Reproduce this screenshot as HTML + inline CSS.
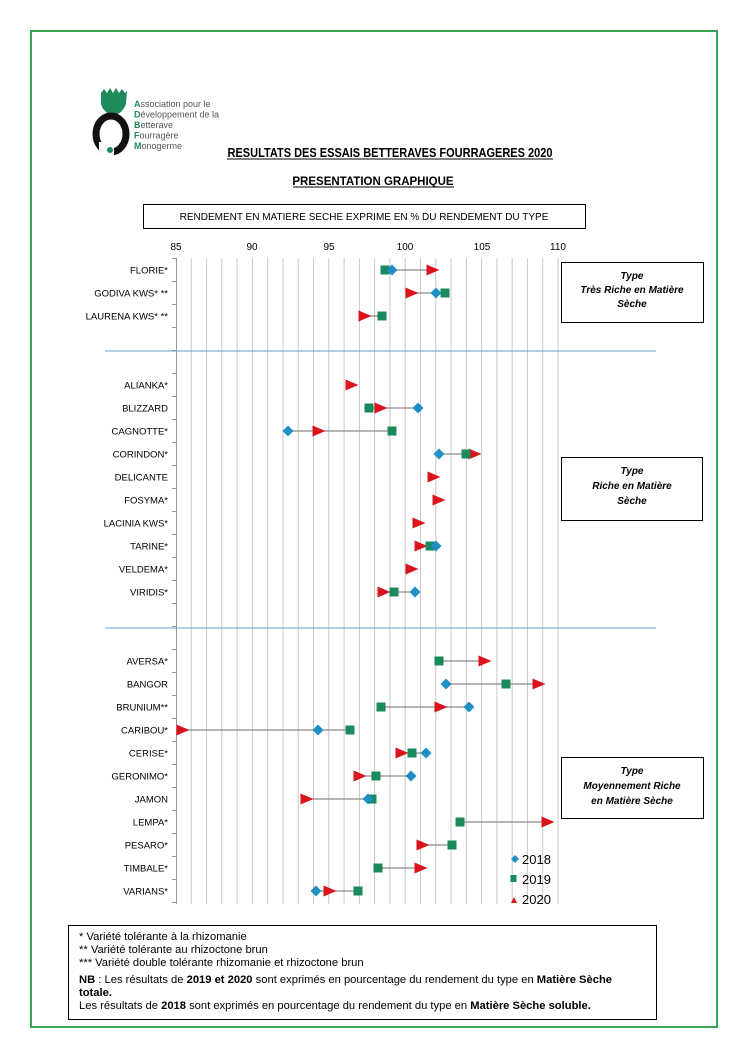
<!DOCTYPE html>
<html><head><meta charset="utf-8"><style>
html,body{margin:0;padding:0;background:#fff;}
svg{display:block;font-family:"Liberation Sans",Arial,sans-serif;}
</style></head><body>
<svg width="747" height="1057" viewBox="0 0 747 1057" xmlns="http://www.w3.org/2000/svg">
<rect x="31" y="31" width="686" height="996" fill="none" stroke="#3aa655" stroke-width="2"/>
<path d="M101,93 L104,89 L107,93 L110,88 L113,93 L116,88 L119,93 L122,89 L125,93 L127,91 L126,104 Q122,114 114,115 Q104,114 101,104 Z" fill="#1f8a5a"/>
<ellipse cx="111" cy="134" rx="15" ry="18" fill="none" stroke="#111" stroke-width="7"/>
<rect x="99" y="142" width="15" height="14" fill="#fff"/>
<circle cx="110" cy="150" r="3" fill="#1f8a5a"/>
<g font-size="9" fill="#555">
<text x="134" y="107"><tspan fill="#1f8a5a" font-weight="bold">A</tspan>ssociation pour le</text>
<text x="134" y="117.5"><tspan fill="#1f8a5a" font-weight="bold">D</tspan>éveloppement de la</text>
<text x="134" y="128"><tspan fill="#1f8a5a" font-weight="bold">B</tspan>etterave</text>
<text x="134" y="138.5"><tspan fill="#1f8a5a" font-weight="bold">F</tspan>ourragère</text>
<text x="134" y="149"><tspan fill="#1f8a5a" font-weight="bold">M</tspan>onogerme</text>
</g>
<text x="390" y="157" font-size="12.5" font-weight="bold" text-anchor="middle" textLength="325" lengthAdjust="spacingAndGlyphs">RESULTATS DES ESSAIS BETTERAVES FOURRAGERES 2020</text>
<line x1="227" y1="159" x2="553" y2="159" stroke="#000" stroke-width="1"/>
<text x="373" y="185" font-size="11.5" font-weight="bold" text-anchor="middle">PRESENTATION GRAPHIQUE</text>
<line x1="293" y1="187" x2="454" y2="187" stroke="#000" stroke-width="1"/>
<rect x="143.5" y="204.5" width="442" height="24" fill="none" stroke="#000" stroke-width="1"/>
<text x="364" y="220" font-size="10" text-anchor="middle">RENDEMENT EN MATIERE SECHE EXPRIME EN % DU RENDEMENT DU TYPE</text>
<g font-size="10" text-anchor="middle">
<text x="176" y="250">85</text><text x="252" y="250">90</text><text x="329" y="250">95</text><text x="405" y="250">100</text><text x="482" y="250">105</text><text x="558" y="250">110</text>
</g>
<g id="grid" stroke="#c8c8c8" stroke-width="1"></g>
<line x1="176.5" y1="258" x2="176.5" y2="904" stroke="#999" stroke-width="1"/>
<g id="ticks" stroke="#999" stroke-width="1"></g>
<line x1="105" y1="351" x2="656" y2="351" stroke="#6a9fd0" stroke-width="1"/>
<line x1="105" y1="628" x2="656" y2="628" stroke="#6a9fd0" stroke-width="1"/>
<g id="data"></g>
<g id="labels" font-size="9.5" text-anchor="end"></g>
<g font-size="10" font-weight="bold" font-style="italic" text-anchor="middle">
<rect x="561.5" y="262.5" width="142" height="60" fill="none" stroke="#000"/>
<text x="632" y="279">Type</text><text x="632" y="293">Très Riche en Matière</text><text x="632" y="307">Sèche</text>
<rect x="561.5" y="457.5" width="141" height="63" fill="none" stroke="#000"/>
<text x="632" y="474">Type</text><text x="632" y="489">Riche en Matière</text><text x="632" y="504">Sèche</text>
<rect x="561.5" y="757.5" width="142" height="61" fill="none" stroke="#000"/>
<text x="632" y="774">Type</text><text x="632" y="789">Moyennement Riche</text><text x="632" y="804">en Matière Sèche</text>
</g>
<path d="M515,855 L519,859 L515,863 L511,859 Z" fill="#1f8fc4"/>
<text x="522" y="864" font-size="13">2018</text>
<rect x="510.5" y="875" width="6" height="7" fill="#1a8a5c"/>
<text x="522" y="884" font-size="13">2019</text>
<path d="M511,903 L514,897 L517,903 Z" fill="#d9141c"/>
<text x="522" y="904" font-size="13">2020</text>
<rect x="68.5" y="925.5" width="588" height="94" fill="none" stroke="#000"/>
<g font-size="11.2">
<text x="79" y="940">* Variété tolérante à la rhizomanie</text>
<text x="79" y="953">** Variété tolérante au rhizoctone brun</text>
<text x="79" y="966">*** Variété double tolérante rhizomanie et rhizoctone brun</text>
<text x="79" y="983"><tspan font-weight="bold">NB</tspan> : Les résultats de <tspan font-weight="bold">2019 et 2020</tspan> sont exprimés en pourcentage du rendement du type en <tspan font-weight="bold">Matière Sèche</tspan></text>
<text x="79" y="996" font-weight="bold">totale.</text>
<text x="79" y="1009">Les résultats de <tspan font-weight="bold">2018</tspan> sont exprimés en pourcentage du rendement du type en <tspan font-weight="bold">Matière Sèche soluble.</tspan></text>
</g>
<script>
var NS="http://www.w3.org/2000/svg";
function el(p,t,a){var e=document.createElementNS(NS,t);for(var k in a)e.setAttribute(k,a[k]);p.appendChild(e);return e;}
var g=document.getElementById('grid');
for(var i=1;i<=25;i++){var x=176+i*15.28;el(g,'line',{x1:x.toFixed(1),y1:258,x2:x.toFixed(1),y2:904});}
var tk=document.getElementById('ticks');
for(var j=0;j<=28;j++){var y=258.5+j*23;el(tk,'line',{x1:172,y1:y,x2:176,y2:y});}
var rows=[
["FLORIE*",0,392,385,433],["GODIVA KWS* **",1,436,445,412],["LAURENA KWS* **",2,null,382,365],
["ALIANKA*",5,null,null,352],["BLIZZARD",6,418,369,381],["CAGNOTTE*",7,288,392,319],["CORINDON*",8,439,466,475],
["DELICANTE",9,null,null,434],["FOSYMA*",10,null,null,439],["LACINIA KWS*",11,null,null,419],["TARINE*",12,436,430,421],
["VELDEMA*",13,null,null,412],["VIRIDIS*",14,415,394,384],
["AVERSA*",17,null,439,485],["BANGOR",18,446,506,539],["BRUNIUM**",19,469,381,441],["CARIBOU*",20,318,350,183],
["CERISE*",21,426,412,402],["GERONIMO*",22,411,376,360],["JAMON",23,368,372,307],["LEMPA*",24,null,460,548],
["PESARO*",25,null,452,423],["TIMBALE*",26,null,378,421],["VARIANS*",27,316,358,330]];
var d=document.getElementById('data'),L=document.getElementById('labels');
rows.forEach(function(r){
 var y=270+r[1]*23;
 var t=el(L,'text',{x:168,y:y+3.5});t.textContent=r[0];
 var xs=[r[2],r[3],r[4]].filter(function(v){return v!==null;});
 var mn=Math.min.apply(null,xs),mx=Math.max.apply(null,xs);
 if(mx>mn)el(d,'line',{x1:mn,y1:y,x2:mx,y2:y,stroke:'#8a8a8a','stroke-width':1.2});
 if(r[4]!==null){var x=r[4];el(d,'path',{d:'M'+(x-6.5)+','+(y-5.5)+' L'+(x+6.5)+','+y+' L'+(x-6.5)+','+(y+5.5)+' Z',fill:'#d9141c'});}
 if(r[3]!==null){var x=r[3];el(d,'rect',{x:x-4.5,y:y-4.5,width:9,height:9,fill:'#1a8a5c'});}
 if(r[2]!==null){var x=r[2];el(d,'path',{d:'M'+x+','+(y-5.5)+' L'+(x+5.5)+','+y+' L'+x+','+(y+5.5)+' L'+(x-5.5)+','+y+' Z',fill:'#1f8fc4'});}
});
</script>
</svg>
</body></html>
